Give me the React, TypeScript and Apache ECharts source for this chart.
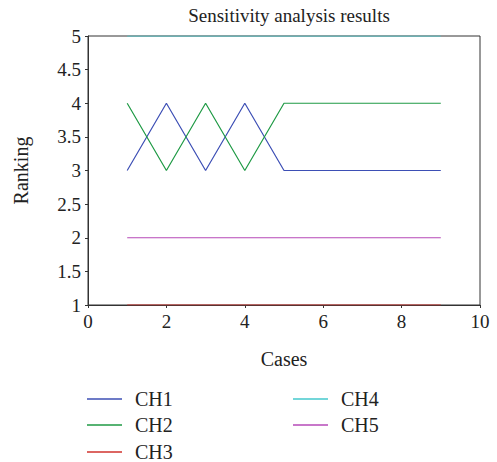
import React, { useEffect, useRef } from "react";
import * as echarts from "echarts";

const cases = [1, 2, 3, 4, 5, 6, 7, 8, 9];
const ch1 = [3, 4, 3, 4, 3, 3, 3, 3, 3];
const ch2 = [4, 3, 4, 3, 4, 4, 4, 4, 4];
const ch3 = [1, 1, 1, 1, 1, 1, 1, 1, 1];
const ch4 = [5, 5, 5, 5, 5, 5, 5, 5, 5];
const ch5 = [2, 2, 2, 2, 2, 2, 2, 2, 2];
const seriesNames = ["CH1", "CH2", "CH3", "CH4", "CH5"];
const seriesValues = [ch1, ch2, ch3, ch4, ch5];
const colors = ["#3d4fb5", "#1f9a45", "#d0332e", "#45c8cc", "#b64ab8"];
const legendLeft = [87, 87, 87, 293, 293];
const legendTop = [389, 415, 442, 389, 415];

const FONT = "'Liberation Serif', 'DejaVu Serif', serif";

export default function App() {
  const ref = useRef<HTMLDivElement>(null);
  useEffect(() => {
    if (!ref.current) return;
    const chart = echarts.init(ref.current, null, { renderer: "svg" });
    const series = seriesNames.map((name, i) => ({
      name,
      type: "line",
      data: cases.map((c, j) => [c, seriesValues[i][j]]),
      symbol: "none",
      lineStyle: { width: 1.2, color: colors[i] },
      itemStyle: { color: colors[i] },
      z: i === 3 ? 5 : 3,
    }));
    const legends = seriesNames.map((name, i) => ({
      data: [name],
      left: legendLeft[i],
      top: legendTop[i],
      padding: 0,
      icon: "rect",
      itemWidth: 35,
      itemHeight: 1.5,
      textStyle: { fontFamily: FONT, fontSize: 20, color: "#222", padding: [0, 0, 0, 8] },
    }));
    chart.setOption({
      animation: false,
      title: {
        text: "Sensitivity analysis results",
        left: 284,
        textAlign: "center",
        top: 1,
        textStyle: { fontFamily: FONT, fontSize: 19, fontWeight: "normal", color: "#222" },
      },
      grid: {
        left: 88,
        right: 17,
        top: 36,
        bottom: 157,
        show: true,
        borderColor: "#333",
        borderWidth: 1,
      },
      legend: legends,
      xAxis: {
        type: "value",
        min: 0,
        max: 10,
        interval: 2,
        name: "Cases",
        nameLocation: "middle",
        nameGap: 44,
        nameTextStyle: { fontFamily: FONT, fontSize: 20, color: "#222" },
        axisLine: { lineStyle: { color: "#333" } },
        axisTick: { length: 3, lineStyle: { color: "#333" } },
        axisLabel: { fontFamily: FONT, fontSize: 19, color: "#222", margin: 7 },
        splitLine: { show: false },
      },
      yAxis: {
        type: "value",
        min: 1,
        max: 5,
        interval: 0.5,
        name: "Ranking",
        nameLocation: "middle",
        nameGap: 57,
        nameTextStyle: { fontFamily: FONT, fontSize: 20, color: "#222" },
        axisLine: { show: true, lineStyle: { color: "#333" } },
        axisTick: { show: true, length: 3, lineStyle: { color: "#333" } },
        axisLabel: { fontFamily: FONT, fontSize: 19, color: "#222", margin: 7 },
        splitLine: { show: false },
      },
      series,
    });
    return () => chart.dispose();
  }, []);
  return <div ref={ref} style={{ width: 497, height: 462, position: "absolute", left: 0, top: 0 }} />;
}
